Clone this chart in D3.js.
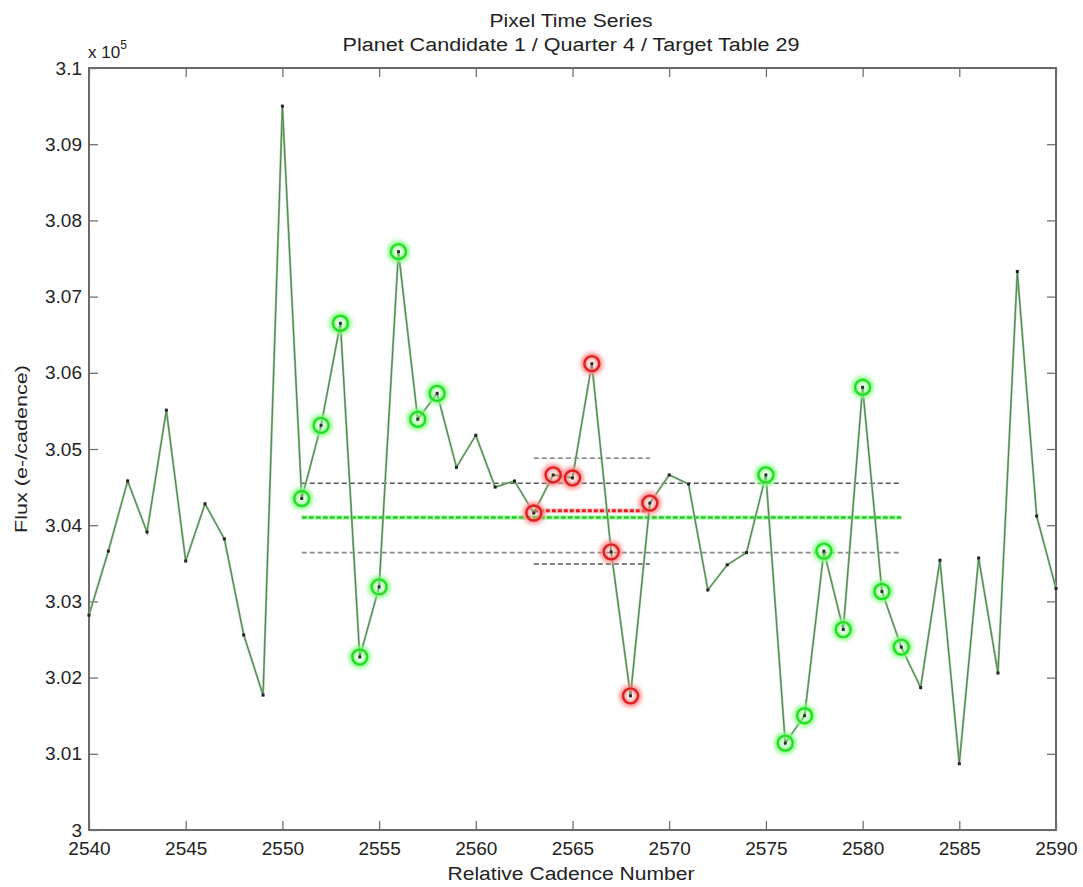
<html lang="en">
<head>
<meta charset="utf-8">
<title>Pixel Time Series</title>
<script src="https://cdn.jsdelivr.net/npm/d3@7"></script>
<style>
  body { margin: 0; background: #fff; }
  text { font-family: "Liberation Sans", Arial, sans-serif; fill: #222; }
</style>
</head>
<body>
<svg width="1083" height="887"></svg>
<script>
// cadence numbers and flux (units of 1e5 e-/cadence)
var cadences = [2540, 2541, 2542, 2543, 2544, 2545, 2546, 2547, 2548, 2549,
                2550, 2551, 2552, 2553, 2554, 2555, 2556, 2557, 2558, 2559,
                2560, 2561, 2562, 2563, 2564, 2565, 2566, 2567, 2568, 2569,
                2570, 2571, 2572, 2573, 2574, 2575, 2576, 2577, 2578, 2579,
                2580, 2581, 2582, 2583, 2584, 2585, 2586, 2587, 2588, 2589, 2590];
var flux = [3.0282, 3.0366, 3.0458, 3.0391, 3.0551, 3.0353, 3.0428, 3.0382, 3.0256, 3.0177,
            3.0950, 3.0435, 3.0531, 3.0665, 3.0227, 3.0319, 3.0759, 3.0539, 3.0573, 3.0476,
            3.0518, 3.0450, 3.0458, 3.0416, 3.0466, 3.0462, 3.0612, 3.0365, 3.0176, 3.0429,
            3.0466, 3.0454, 3.0315, 3.0348, 3.0364, 3.0466, 3.0114, 3.0150, 3.0366, 3.0263,
            3.0581, 3.0313, 3.0240, 3.0187, 3.0354, 3.0087, 3.0357, 3.0206, 3.0733, 3.0412, 3.0317];

// out-of-transit (green) and in-transit (red) cadences
var ootCadences = [2551, 2552, 2553, 2554, 2555, 2556, 2557, 2558,
                   2575, 2576, 2577, 2578, 2579, 2580, 2581, 2582];
var transitCadences = [2563, 2564, 2565, 2566, 2567, 2568, 2569];

// summary levels
var ootSpan = [2551, 2582];
var ootMean = 3.0410;
var ootBand = [3.0364, 3.0455];
var transitSpan = [2563, 2569];
var transitMean = 3.0419;
var transitBand = [3.0349, 3.0488];

var xTicks = [2540, 2545, 2550, 2555, 2560, 2565, 2570, 2575, 2580, 2585, 2590];
var yTicks = [3.00, 3.01, 3.02, 3.03, 3.04, 3.05, 3.06, 3.07, 3.08, 3.09, 3.10];

var svg = d3.select("svg"),
    margin = {top: 68, right: 27, bottom: 57, left: 89},
    width = +svg.attr("width") - margin.left - margin.right,
    height = +svg.attr("height") - margin.top - margin.bottom,
    g = svg.append("g").attr("transform", "translate(" + margin.left + "," + margin.top + ")");

var x = d3.scaleLinear().domain([2540, 2590]).range([0, width]),
    y = d3.scaleLinear().domain([3.0, 3.1]).range([height, 0]);

var data = cadences.map(function(c, i) { return {c: c, v: flux[i]}; });
var lookup = {};
data.forEach(function(d) { lookup[d.c] = d.v; });

var defs = svg.append("defs");
defs.append("filter").attr("id", "glow")
    .attr("x", "-50%").attr("y", "-50%").attr("width", "200%").attr("height", "200%")
  .append("feGaussianBlur").attr("stdDeviation", 2);

var fmt = function(v) { return String(+v.toFixed(2)); };

// axes, MATLAB style ticks inside
g.append("g")
    .attr("transform", "translate(0," + height + ")")
    .call(d3.axisBottom(x).tickValues(xTicks).tickSizeInner(-9).tickSizeOuter(0).tickPadding(12).tickFormat(d3.format("d")))
    .call(function(a) { a.select(".domain").remove(); });
g.append("g")
    .call(d3.axisLeft(y).tickValues(yTicks).tickSizeInner(-9).tickSizeOuter(0).tickPadding(7).tickFormat(fmt))
    .call(function(a) { a.select(".domain").remove(); });
g.append("g")
    .call(d3.axisTop(x).tickValues(xTicks).tickSizeInner(-9).tickSizeOuter(0).tickFormat(""))
    .call(function(a) { a.select(".domain").remove(); });
g.append("g")
    .attr("transform", "translate(" + width + ",0)")
    .call(d3.axisRight(y).tickValues(yTicks).tickSizeInner(-9).tickSizeOuter(0).tickFormat(""))
    .call(function(a) { a.select(".domain").remove(); });

g.selectAll(".tick line").attr("stroke", "#666").attr("stroke-width", 1.2);
g.selectAll(".tick text").style("font-size", "19px").attr("fill", "#222");

g.append("rect")
    .attr("width", width).attr("height", height)
    .attr("fill", "none").attr("stroke", "#6a6a6a").attr("stroke-width", 2);

// horizontal summary levels
function hline(span, v, color, w, dash) {
  g.append("line")
      .attr("x1", x(span[0])).attr("x2", x(span[1]))
      .attr("y1", y(v)).attr("y2", y(v))
      .attr("stroke", color).attr("stroke-width", w)
      .attr("stroke-dasharray", dash);
}
hline(ootSpan, ootBand[1], "#555", 1.4, "5,3");
hline(ootSpan, ootBand[0], "#888", 1.8, "5,3");
hline(transitSpan, transitBand[1], "#666", 1.4, "5,3");
hline(transitSpan, transitBand[0], "#555", 1.4, "5,3");
// mean levels with a soft halo
g.append("line")
    .attr("x1", x(ootSpan[0])).attr("x2", x(ootSpan[1]))
    .attr("y1", y(ootMean)).attr("y2", y(ootMean))
    .attr("stroke", "#9f9").attr("stroke-width", 5).attr("opacity", 0.6);
hline(ootSpan, ootMean, "#22cc22", 2.5, "5,2");
g.append("line")
    .attr("x1", x(transitSpan[0])).attr("x2", x(transitSpan[1]))
    .attr("y1", y(transitMean)).attr("y2", y(transitMean))
    .attr("stroke", "#f99").attr("stroke-width", 5).attr("opacity", 0.5);
hline(transitSpan, transitMean, "#e02020", 3, "4,2");

// series line: green with a thin dark core
var line = d3.line().x(function(d) { return x(d.c); }).y(function(d) { return y(d.v); });
g.append("path").datum(data)
    .attr("fill", "none").attr("stroke", "#86c886").attr("stroke-width", 2.2)
    .attr("d", line);
g.append("path").datum(data)
    .attr("fill", "none").attr("stroke", "#4a5a4a").attr("stroke-width", 0.7)
    .attr("d", line);

// data point dots
g.selectAll(".dot").data(data).enter().append("rect")
    .attr("class", "dot")
    .attr("x", function(d) { return x(d.c) - 1.5; })
    .attr("y", function(d) { return y(d.v) - 1.5; })
    .attr("width", 3).attr("height", 3)
    .attr("fill", "#222");

// highlighted circles
function rings(list, color, halo) {
  var pts = list.map(function(c) { return {c: c, v: lookup[c]}; });
  var grp = g.append("g");
  grp.selectAll(".halo").data(pts).enter().append("circle")
      .attr("cx", function(d) { return x(d.c); })
      .attr("cy", function(d) { return y(d.v); })
      .attr("r", 8).attr("fill", "none")
      .attr("stroke", halo).attr("stroke-width", 6)
      .attr("filter", "url(#glow)");
  grp.selectAll(".ring").data(pts).enter().append("circle")
      .attr("cx", function(d) { return x(d.c); })
      .attr("cy", function(d) { return y(d.v); })
      .attr("r", 7.5).attr("fill", "none")
      .attr("stroke", color).attr("stroke-width", 2.4);
}
rings(ootCadences, "#22dd22", "#8f8");
rings(transitCadences, "#dd1f1f", "#f88");

// labels
svg.append("text").attr("x", 571).attr("y", 27).attr("text-anchor", "middle")
    .attr("textLength", 163).attr("lengthAdjust", "spacingAndGlyphs")
    .style("font-size", "18px").text("Pixel Time Series");
svg.append("text").attr("x", 571).attr("y", 51).attr("text-anchor", "middle")
    .attr("textLength", 457).attr("lengthAdjust", "spacingAndGlyphs")
    .style("font-size", "18px").text("Planet Candidate 1 / Quarter 4 / Target Table 29");
var mult = svg.append("text").attr("x", 88).attr("y", 58).style("font-size", "17px");
mult.append("tspan").text("x 10");
mult.append("tspan").attr("dy", -9).style("font-size", "12px").text("5");
svg.append("text").attr("x", 571).attr("y", 880).attr("text-anchor", "middle")
    .attr("textLength", 247).attr("lengthAdjust", "spacingAndGlyphs")
    .style("font-size", "18px").text("Relative Cadence Number");
svg.append("text")
    .attr("transform", "translate(27," + (margin.top + height / 2) + ") rotate(-90)")
    .attr("text-anchor", "middle")
    .attr("textLength", 168).attr("lengthAdjust", "spacingAndGlyphs")
    .style("font-size", "17px").text("Flux (e-/cadence)");
</script>
</body>
</html>
